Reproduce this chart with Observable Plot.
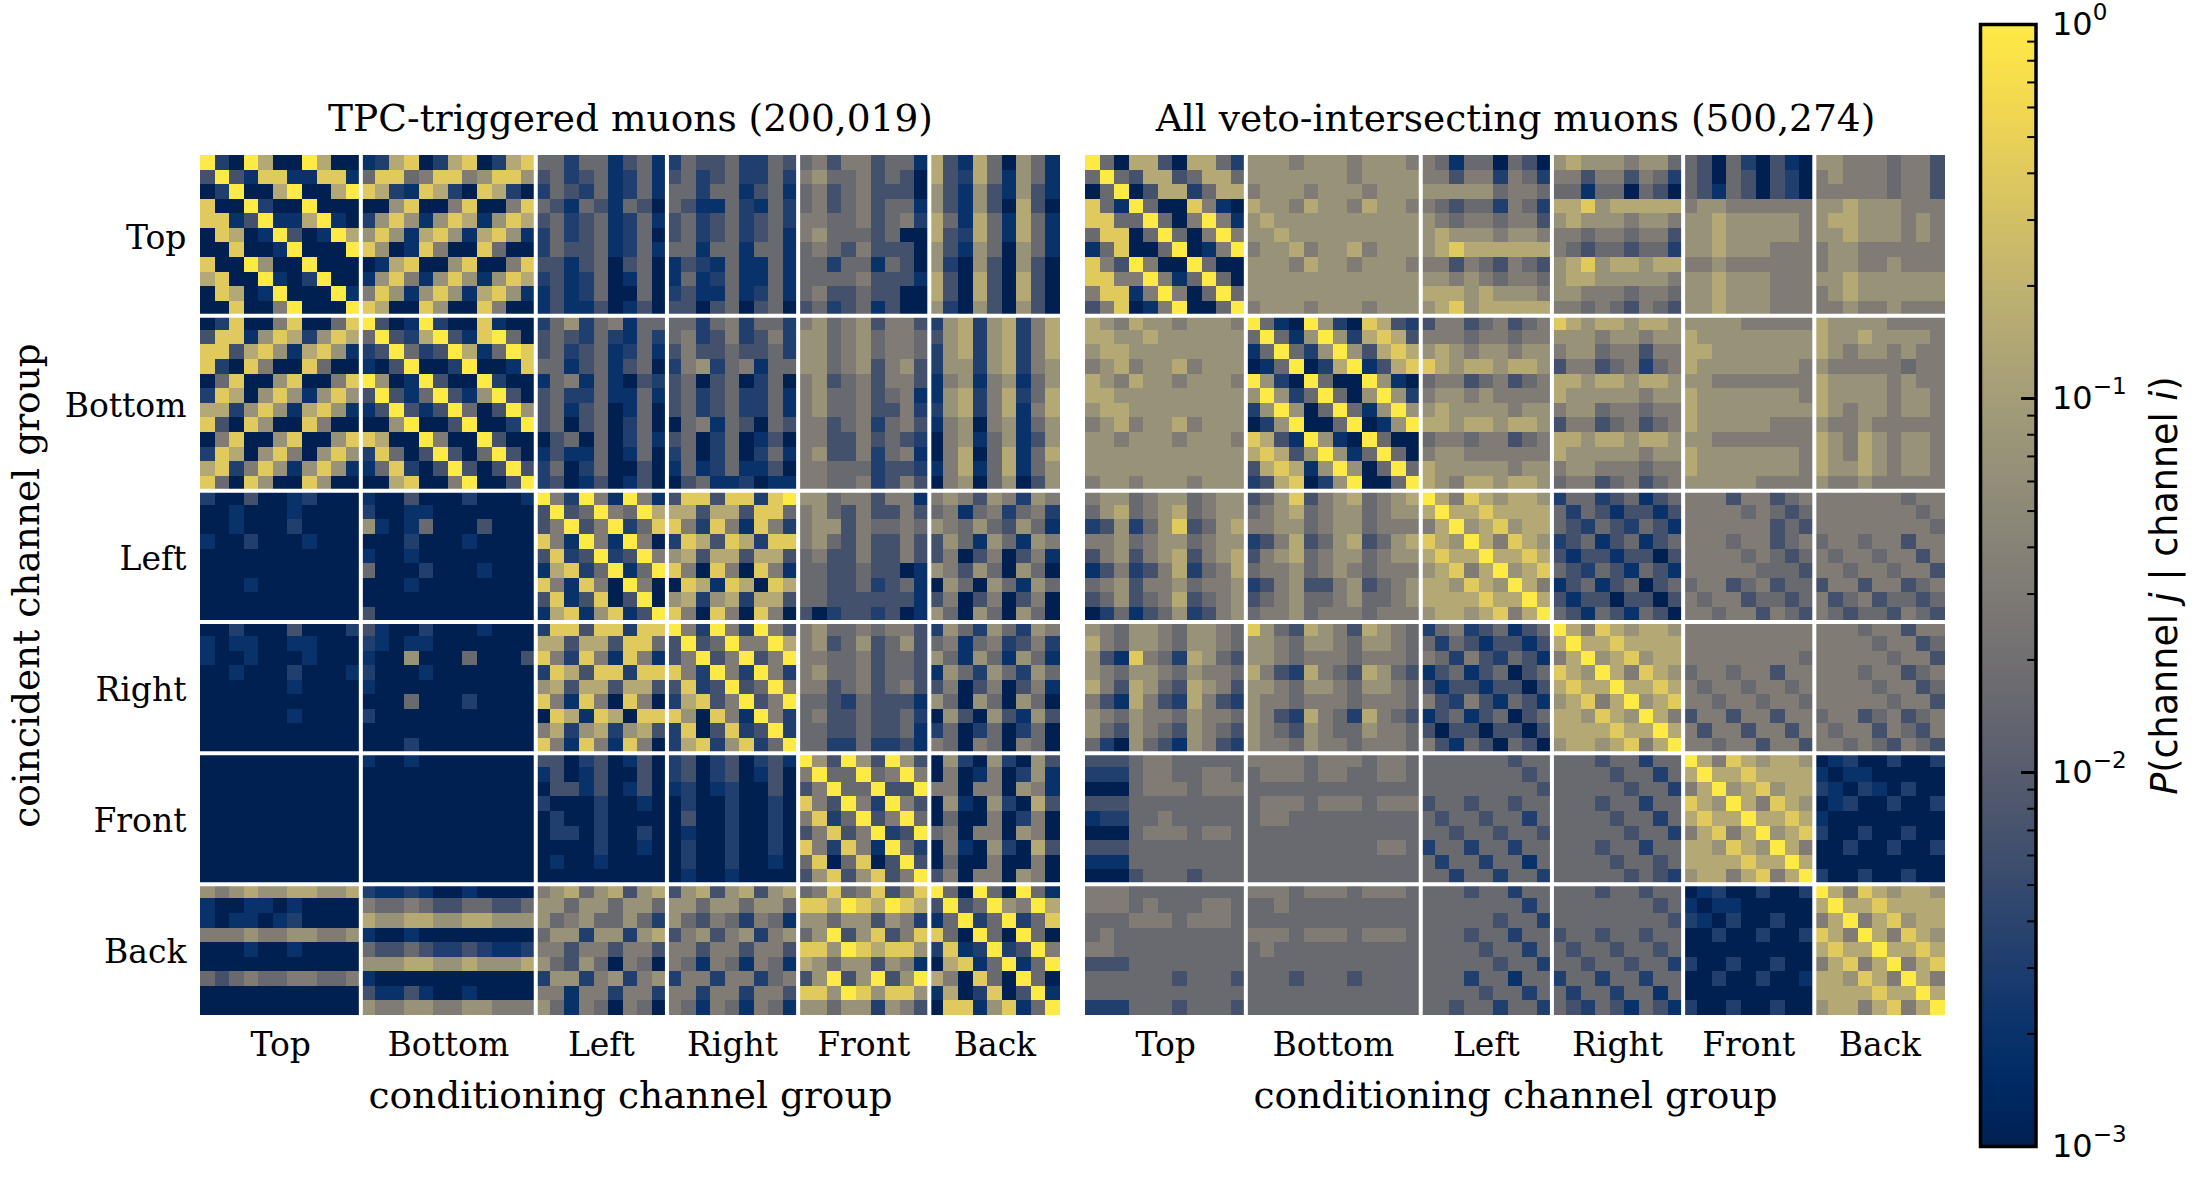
<!DOCTYPE html>
<html>
<head>
<meta charset="utf-8">
<script src="https://cdn.jsdelivr.net/npm/d3@7"></script>
<script src="https://cdn.jsdelivr.net/npm/@observablehq/plot@0.6"></script>
<style>
html,body{margin:0;padding:0;background:#fff;width:2197px;height:1178px;overflow:hidden}
#fig{position:relative;width:2197px;height:1178px}
#fig svg{position:absolute;top:0;overflow:visible;background:transparent}
</style>
</head>
<body>
<div id="fig"></div>
<script>
// Channel groups and the number of channels in each
const groupNames = ["Top","Bottom","Left","Right","Front","Back"];
const groupSizes = [11,12,9,9,9,9];
// P(channel j | channel i): each digit is a level of levelP
const levelP = [0.001,0.002,0.0032,0.0065,0.016,0.032,0.07,0.15,0.4,1];

const tpcTop = [
"92097009700 127802780278 442441341 243342243 453553441 731740641",
"39318811881 488458856886 342341241 342342242 564453430 732741641",
"02900790079 872187208720 243241241 442441341 453453330 631631631",
"80092009000 006800580058 431431430 431142142 453453441 631630730",
"88139117910 268616871687 342341241 342342342 554453452 741741741",
"08701930197 686178617861 242341240 342342341 564443400 732741741",
"00800190009 860185008400 243341241 441441441 454353330 631640641",
"80096009000 017800680058 331340340 132141141 442441430 620630630",
"78009102900 168516861687 231240140 141241141 444453331 730730730",
"08701900091 586168617861 131240040 231141241 453343300 730730730",
"00800590009 870086008500 131130130 330340340 342341300 620630630"];
const tpcBottom = [
"02800580048 930192008100 246245144 442452442 564563553 267267257",
"38816872687 493279318940 343242142 452352352 664564554 367267257",
"88378617861 239423971498 342341241 353343342 664564554 267267257",
"82085008400 103900290018 441341340 256245144 664563563 266267256",
"04800680058 960193009200 145141032 340340240 563453553 156156146",
"28706861686 393149316930 342241141 342342241 564453451 167257247",
"77268617861 139313940396 341340140 342342241 564453352 267257157",
"83086008500 006900390029 340340240 045143043 553452453 156056146",
"05800680068 870095009300 034040241 340240130 553353432 056146136",
"28706850686 284039304930 131140140 240240241 563352451 057047147",
"78258616861 148203930393 240240030 141241130 554442332 157147146",
"84086008600 007800590039 230130130 034112011 554452353 056046036"];
const tpcLeft = [
"20030012000 100300020001 952951951 388388289 664553551 565365265",
"00100010000 200110000000 393495497 773773884 564353353 451452452",
"00100020000 610140003000 359359248 852851852 566354454 654643641",
"10020001000 000200010000 851951950 287387288 564353353 364164165",
"00000000000 100100000000 382392395 673773773 453353353 350350351",
"00000000000 400020001000 178249149 850850851 443343301 653640640",
"00010000000 000100000000 851850950 087187087 443342341 064064164",
"00000000000 000000000000 381380390 672672773 443333331 350350350",
"00000000000 300000000000 178168139 850850850 302332301 640640640"];
const tpcRight = [
"00200030002 310020001000 288388288 952952953 564454553 264264265",
"10110011000 210110000000 773773884 393495597 563463463 451452352",
"10010001000 100600040003 852851851 359359359 554453443 641641641",
"00100020001 200010000000 287388288 852952952 564453443 164264264",
"00000010000 100000000000 673773773 382393495 553453453 350350351",
"00000000000 000400020000 851850850 278359359 443243331 640640640",
"00000010000 200000000000 087187088 860851952 453343342 063063163",
"00000000000 000000000000 572672673 280382392 443343341 240240240",
"00000000000 000200000000 851851850 278268249 442242231 540540540"];
const tpcFront = [
"00000000000 100100000000 330230130 230230231 963963963 062062063",
"00000000000 000000000000 130130030 230230130 594494595 050150261",
"00000000000 000000000000 033130130 120120030 359449339 550550651",
"00000000000 000000000000 200020010 020020020 853952953 061062073",
"00000000000 000000000000 020020000 030020020 582493594 040050250",
"00000000000 000000000000 022020020 010020020 358359239 450550650",
"00000000000 000000000000 000020010 020020020 852851942 051062073",
"00000000000 000000000000 010010000 020020010 480480393 040050050",
"00000000000 000000000000 000000000 010010000 368368359 350550650"];
const tpcBack = [
"65676677667 211210010000 567467367 367367367 458458358 940940941",
"10011010000 544543344334 664664664 664664664 887987987 393496597",
"10110120000 766776677666 645644642 643542541 664663652 149249248",
"55565566556 100100000000 466266267 356356256 469368358 840940940",
"00010010000 433432232112 553553553 553553553 886987886 281292395",
"00000000000 666776676667 643640540 541541541 764663651 078149149",
"43454455445 100000000000 266256256 255255245 369369369 750840940",
"00000000000 311310010000 551552552 552552553 886986886 170280391",
"00000000000 655665566555 641540540 541541541 664662653 088168149"];

const vetoTop = [
"94077307742 666566656665 541440430 676665664 430420310 665554553",
"49437734774 666666656666 553552542 553553542 430430320 565554553",
"04903772477 566656665666 666664554 441440430 431430320 555554553",
"84194008510 766576657665 543442542 778677777 566555555 667666555",
"88449405951 676666666666 654554553 676665665 667666665 677666565",
"48804940595 667666666666 676665665 554554553 667666665 667666565",
"14800490159 566756675666 678777777 543443442 667666555 566555555",
"85395009400 666576656665 553543543 678677677 556555555 566556555",
"88559514940 666666666666 665654554 677666665 667666555 667666666",
"58815950494 666666666666 777676665 665554554 667666555 567666666",
"35801590049 566656665666 678677777 554543543 667666555 556556555"];
const vetoBottom = [
"76576656665 941096208732 355345345 876776776 666655555 766665555",
"77667666666 494169627873 555455455 666566566 766666666 766766665",
"67766666666 149426963787 676566566 566455355 776666666 765665655",
"56756675666 014902791378 876776776 355345245 766666665 655555455",
"76576656665 962094009610 455345345 776776776 665555555 766665655",
"77666666666 696249406962 566565555 766666566 766666665 766665665",
"67766666666 269604941696 676666566 566455455 766666666 765665665",
"56756675666 026900490169 776776776 355345345 766666555 655655555",
"66566656665 873196109400 455455345 776776776 665555555 765765665",
"66666666666 787369614940 566555555 766666566 766666665 765765665",
"66666666666 378716960494 766666566 566555455 766666665 766765665",
"56656665666 237802690049 765776776 455345345 666665555 655655555"];
const vetoLeft = [
"56645664566 346835674567 975876776 244234134 555355345 555555455",
"46745674566 456745664566 797787777 424313313 555545434 555555545",
"23624683467 556645664555 579678677 432432431 555555343 555555554",
"55645664566 235734673467 876975876 234134134 555455345 455455355",
"35635673567 356745664566 787797787 313313303 555545434 545545535",
"13523572457 455645654555 678579678 432431431 555554443 554554553",
"45635564556 235633563456 776876975 134134034 455345344 355355345",
"34634573456 345644564456 777787797 313303303 545534434 534534434",
"02413462356 455645554555 677678579 431431430 554553543 543443543"];
const vetoRight = [
"65466546654 864376537654 245234134 975876776 555555555 555455355",
"75466546654 665466546654 424313313 797787777 555555555 555545534",
"63185427643 665455545554 542532431 579678677 555555554 555554553",
"65466546554 753275437643 134134034 876975876 455455355 555455345",
"75376437653 665466546654 313313303 787797787 545545545 555545534",
"53175327532 655455545554 532531431 678579678 554554554 555554553",
"65465546554 653275427543 134134034 776876975 355355355 455345345",
"64365436543 654365446554 303303303 777787797 535535535 545535435",
"42064316532 655465545554 531430430 677678579 554553553 554543543"];
const vetoFront = [
"33345544444 555545554554 444444344 444344244 975876776 012002002",
"22245544554 455545544554 444444434 444434424 797787777 101100000",
"00045554555 444444444444 444444443 444443442 579678677 210210200",
"33344444444 455545554555 344344344 444344244 876975876 012002002",
"12244544444 455444444444 434434424 444434424 787797787 100000000",
"00045554554 444444444444 443443443 444443442 578579678 200200200",
"33344444444 444444444554 244244244 444344244 776876975 002002002",
"11144444444 444444444444 424424414 444434434 777787797 000000000",
"00034443444 444444444444 442442442 444443432 677578579 200200200"];
const vetoBack = [
"55544444444 555455545554 444344244 444344344 012002002 975876776",
"55545444554 445444444444 444444424 444444434 101100000 797787777",
"44455545554 444444444444 444443442 444444443 210200200 579578677",
"45444444444 555455545554 444344244 344344344 002002002 875975876",
"55444444444 454444444444 444434424 434434434 000000000 787797787",
"33344444444 444444444444 444443442 443443442 200200200 578579578",
"44444434443 444344434444 444244144 244244244 002002001 776875975",
"44444444444 444444444444 444434424 424424414 000000000 777787797",
"22244434443 444444444444 443442442 432431431 200200200 677578579"];

const tpcRows = [...tpcTop,...tpcBottom,...tpcLeft,...tpcRight,...tpcFront,...tpcBack];
const vetoRows = [...vetoTop,...vetoBottom,...vetoLeft,...vetoRight,...vetoFront,...vetoBack];

const nChannels = d3.sum(groupSizes);
const edges = d3.cumsum(groupSizes);                    // 11, 23, 32, ...
const boundaries = Array.from(edges).slice(0,-1);
const centers = groupSizes.map((s,k)=> (edges[k]-s) + s/2);
const nameAt = new Map(centers.map((c,k)=>[c,groupNames[k]]));

function decode(rows){
  const cells=[];
  rows.forEach((row,j)=>{
    const blocks=row.split(" ");
    blocks.forEach((b,k)=>{ if(b.length!==groupSizes[k]) console.error("bad block",j,k,b); });
    blocks.join("").split("").forEach((ch,i)=>{
      cells.push({x1:i,x2:i+1,y1:j,y2:j+1,p:levelP[+ch]});
    });
  });
  return cells;
}

const serif = "'DejaVu Serif'";
const sans = "'DejaVu Sans'";
const TICK = 33, LABEL = 37.5;
const colorOpt = {type:"log",domain:[1e-3,1],scheme:"cividis"};

function panel({rows,title,left,width,marginLeft,marginRight,showY}){
  const svg = Plot.plot({
    width,height:1178,marginLeft,marginRight,marginTop:155,marginBottom:163,
    style:{fontFamily:serif,background:"transparent",color:"#000"},
    x:{domain:[0,nChannels],axis:null},
    y:{domain:[0,nChannels],reverse:true,axis:null},
    color:colorOpt,
    marks:[
      Plot.rect(decode(rows),{x1:"x1",x2:"x2",y1:"y1",y2:"y2",fill:"p",shapeRendering:"crispEdges"}),
      Plot.ruleX(boundaries,{stroke:"#fff",strokeWidth:4}),
      Plot.ruleY(boundaries,{stroke:"#fff",strokeWidth:4}),
      Plot.axisX({anchor:"bottom",ticks:centers,tickFormat:d=>nameAt.get(d),tickSize:0,tickPadding:17,fontSize:TICK,
        label:"conditioning channel group",labelAnchor:"center",labelArrow:"none",labelOffset:92}),
      showY ? Plot.axisY({anchor:"left",ticks:centers,tickFormat:d=>nameAt.get(d),tickSize:0,tickPadding:14,dy:3,fontSize:TICK,
        label:"coincident channel group",labelAnchor:"center",labelArrow:"none",labelOffset:188}) : null,
      Plot.text([title],{frameAnchor:"top",dy:-37,lineAnchor:"middle",fontSize:LABEL,text:d=>d,fill:"#000"})
    ]
  });
  svg.style.left=left+"px";
  // axis label uses the larger font
  d3.select(svg).selectAll("text").each(function(){
    const t=this.textContent;
    if(t==="conditioning channel group"||t==="coincident channel group") this.setAttribute("font-size",LABEL);
  });
  document.getElementById("fig").appendChild(svg);
}

panel({rows:tpcRows,title:"TPC-triggered muons (200,019)",left:0,width:1072,marginLeft:200,marginRight:12,showY:true});
panel({rows:vetoRows,title:"All veto-intersecting muons (500,274)",left:1072,width:878,marginLeft:13,marginRight:5,showY:false});

// Colour bar
const barMajor = [1,0.1,0.01,0.001];
const barMinor = barMajor.slice(1).flatMap(d=>[2,3,4,5,6,7,8,9].map(m=>m*d));
const barSteps = d3.range(0,300).map(i=>({y1:10**(-3+3*i/300),y2:10**(-3+3*(i+1)/300),p:10**(-3+3*(i+0.5)/300)}));
const expo = new Map([[1,"0"],[0.1,"−1"],[0.01,"−2"],[0.001,"−3"]]);
const bar = Plot.plot({
  width:247,height:1178,marginLeft:30,marginRight:161.5,marginTop:24,marginBottom:32,
  style:{fontFamily:sans,background:"transparent",color:"#000"},
  x:{domain:[0,1],axis:null},
  y:{type:"log",domain:[1e-3,1],axis:null},
  color:colorOpt,
  marks:[
    Plot.rect(barSteps,{x1:0,x2:1,y1:"y1",y2:"y2",fill:"p",shapeRendering:"crispEdges"}),
    Plot.ruleY(barMinor,{x1:0.85,x2:1,stroke:"#000",strokeWidth:2}),
    Plot.ruleY(barMajor,{x1:0.74,x2:1,stroke:"#000",strokeWidth:3}),
    Plot.frame({stroke:"#000",strokeWidth:3.5}),
    Plot.axisY({anchor:"right",ticks:barMajor,tickFormat:d=>"10|"+expo.get(d),tickSize:0,tickPadding:16,fontSize:32,label:null}),
    Plot.text(["P(channel j | channel i)"],{frameAnchor:"right",dx:129,rotate:-90,fontSize:36.5,text:d=>d,fill:"#000",lineAnchor:"middle",textAnchor:"middle"})
  ]
});
d3.select(bar).selectAll("text").each(function(){
  const t=this.textContent;
  if(t.startsWith("10|")){
    const e=t.split("|")[1];
    this.textContent="";
    d3.select(this).append("tspan").text("10");
    d3.select(this).append("tspan").attr("font-size",23).attr("dy","-0.62em").text(e);
  } else if(t.startsWith("P(channel")){
    this.textContent="";
    const s=d3.select(this);
    s.append("tspan").attr("font-style","italic").text("P");
    s.append("tspan").text("(channel ");
    s.append("tspan").attr("font-style","italic").text("j");
    s.append("tspan").text(" | channel ");
    s.append("tspan").attr("font-style","italic").text("i");
    s.append("tspan").text(")");
  }
});
bar.style.left="1950px";
document.getElementById("fig").appendChild(bar);
</script>
</body>
</html>
